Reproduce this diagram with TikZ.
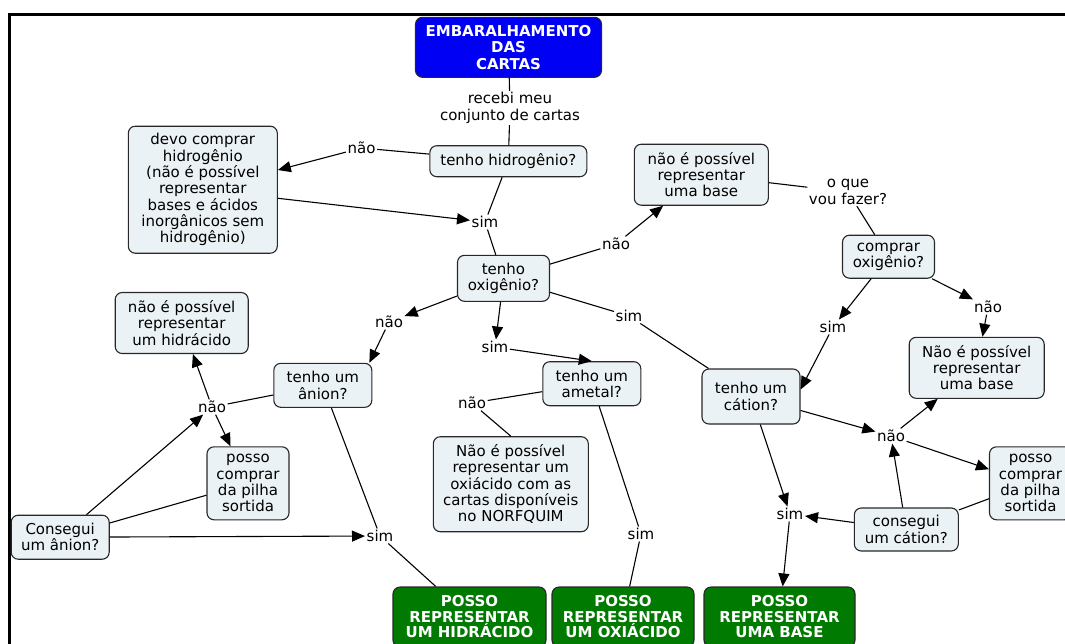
\documentclass[tikz,border=0pt]{standalone}
\usepackage{fontspec}
\setmainfont{DejaVu Sans}
\usetikzlibrary{arrows.meta,calc}
\definecolor{conceptfill}{RGB}{234,242,245}
\definecolor{titleblue}{RGB}{0,0,245}
\definecolor{goalgreen}{RGB}{0,122,0}
\definecolor{edgegray}{RGB}{40,40,40}

\begin{document}
\begin{tikzpicture}[x=1pt,y=-1pt,
  concept/.style={draw=edgegray, line width=1.1pt, rounded corners=7pt, fill=conceptfill,
    align=center, font=\fontsize{15}{16.3}\selectfont, inner sep=0pt},
  title/.style={concept, fill=titleblue, text=white, font=\bfseries\fontsize{15}{16.5}\selectfont},
  goal/.style={concept, fill=goalgreen, text=white, font=\bfseries\fontsize{15}{15.5}\selectfont},
  linkword/.style={align=center, font=\fontsize{15}{16.3}\selectfont, inner sep=1.5pt},
  link/.style={line width=1.1pt, draw=black},
  arr/.style={link, -{Triangle[length=13pt,width=11pt]}},
]
\useasboundingbox (0,0) rectangle (1065,643);
\clip (0,0) rectangle (1065,643);

% frame
\draw[line width=3.5pt] (9.5,650) -- (9.5,14.5) -- (1070,14.5);

% concepts
\node[title, minimum width=186pt, minimum height=60pt] (top) at (508.5,47.3) {EMBARALHAMENTO\\DAS\\CARTAS};
\node[concept, minimum width=157pt, minimum height=31pt] (hid) at (508.3,161.2) {tenho hidrogênio?};
\node[concept, minimum width=149pt, minimum height=127pt] (devo) at (202.8,189.7) {devo comprar\\hidrogênio\\(não é possível\\representar\\bases e ácidos\\inorgânicos sem\\hidrogênio)};
\node[concept, minimum width=92pt, minimum height=46pt] (oxi) at (503.5,278.3) {tenho\\oxigênio?};
\node[concept, minimum width=134pt, minimum height=61pt] (nobaseA) at (701.3,174.7) {não é possível\\representar\\uma base};
\node[concept, minimum width=92pt, minimum height=43pt] (buyox) at (888.5,256.7) {comprar\\oxigênio?};
\node[concept, minimum width=135pt, minimum height=61pt] (nobaseB) at (976.7,367.8) {Não é possível\\representar\\uma base};
\node[concept, minimum width=98pt, minimum height=55pt] (cation) at (751,396.5) {tenho um\\cátion?};
\node[concept, minimum width=104pt, minimum height=43pt] (gotcat) at (906.3,529.5) {consegui\\um cátion?};
\node[concept, minimum width=82pt, minimum height=73pt] (shopR) at (1030.5,483.3) {posso\\comprar\\da pilha\\sortida};
\node[concept, minimum width=98pt, minimum height=44pt] (nonmetal) at (591.8,383.7) {tenho um\\ametal?};
\node[concept, minimum width=155pt, minimum height=95pt] (nooxy) at (510.8,484.2) {Não é possível\\representar um\\oxiácido com as\\cartas disponíveis\\no NORFQUIM};
\node[concept, minimum width=98pt, minimum height=44pt] (anion) at (322.8,385.3) {tenho um\\ânion?};
\node[concept, minimum width=133pt, minimum height=61pt] (nohyd) at (181.7,323) {não é possível\\representar\\um hidrácido};
\node[concept, minimum width=82pt, minimum height=73pt] (shopL) at (248,483.3) {posso\\comprar\\da pilha\\sortida};
\node[concept, minimum width=98pt, minimum height=44pt] (gotan) at (60.2,537.2) {Consegui\\um ânion?};
\node[goal, minimum width=153pt, minimum height=60pt] (hydacid) at (469.5,617) {POSSO\\REPRESENTAR\\UM HIDRÁCIDO};
\node[goal, minimum width=142pt, minimum height=60pt] (oxyacid) at (623,617) {POSSO\\REPRESENTAR\\UM OXIÁCIDO};
\node[goal, minimum width=151pt, minimum height=60pt] (base) at (779.5,617) {POSSO\\REPRESENTAR\\UMA BASE};

% linking words
\node[linkword] (recebi) at (510,108) {recebi meu\\conjunto de cartas};
\node[linkword] (naoA) at (361.5,148) {não};
\node[linkword] (simA) at (485,222) {sim};
\node[linkword] (naoB) at (616,244) {não};
\node[linkword] (oque) at (848,192) {o que\\vou fazer?};
\node[linkword] (simB) at (833,327) {sim};
\node[linkword] (naoC) at (988,307) {não};
\node[linkword] (naoD) at (891,436) {não};
\node[linkword] (simC) at (629,316) {sim};
\node[linkword] (simD) at (495,347) {sim};
\node[linkword] (naoE) at (472,403) {não};
\node[linkword] (naoF) at (389,322) {não};
\node[linkword] (naoG) at (212,407) {não};
\node[linkword] (simE) at (380,536) {sim};
\node[linkword] (simF) at (641,534) {sim};
\node[linkword] (simG) at (790,514) {sim};

% connectors
\draw[link] (top) -- (recebi);
\draw[link] (recebi) -- (hid);
\draw[link] (hid) -- (naoA);
\draw[arr] (naoA) -- (devo);
\draw[arr] (devo) -- (simA);
\draw[link] (hid) -- (simA);
\draw[link] (simA) -- (oxi);
\draw[link] (oxi) -- (naoB);
\draw[arr] (naoB) -- (nobaseA);
\draw[link] (nobaseA) -- (oque);
\draw[link] (oque) -- (buyox);
\draw[arr] (buyox) -- (simB);
\draw[arr] (simB) -- ($(cation.east)+(0,-7)$);
\draw[arr] (buyox) -- (naoC);
\draw[arr] (naoC) -- (nobaseB);
\draw[link] (oxi) -- (simC);
\draw[link] (simC) -- (cation);
\draw[arr] (cation) -- (naoD);
\draw[arr] (naoD) -- (nobaseB);
\draw[arr] (naoD) -- (shopR);
\draw[arr] (gotcat) -- (naoD);
\draw[link] (gotcat) -- (shopR);
\draw[arr] (gotcat) -- (simG);
\draw[arr] (cation) -- (simG);
\draw[arr] (simG) -- (base);
\draw[arr] (oxi) -- (naoF);
\draw[arr] (naoF) -- ($(anion.north east)+(-3,0)$);
\draw[arr] (oxi) -- (simD);
\draw[arr] (simD) -- (nonmetal.north);
\draw[link] (nonmetal) -- (naoE);
\draw[link] (naoE) -- (nooxy.north);
\draw[link] (nonmetal) -- (simF);
\draw[link] (simF) -- (oxyacid);
\draw[link] (anion) -- (simE);
\draw[link] (simE) -- (hydacid);
\draw[link] (anion) -- (naoG);
\draw[arr] (naoG) -- (nohyd);
\draw[arr] (naoG) -- (shopL);
\draw[arr] (gotan) -- (naoG);
\draw[link] (gotan) -- (shopL);
\draw[arr] (gotan) -- (simE);
\end{tikzpicture}
\end{document}
